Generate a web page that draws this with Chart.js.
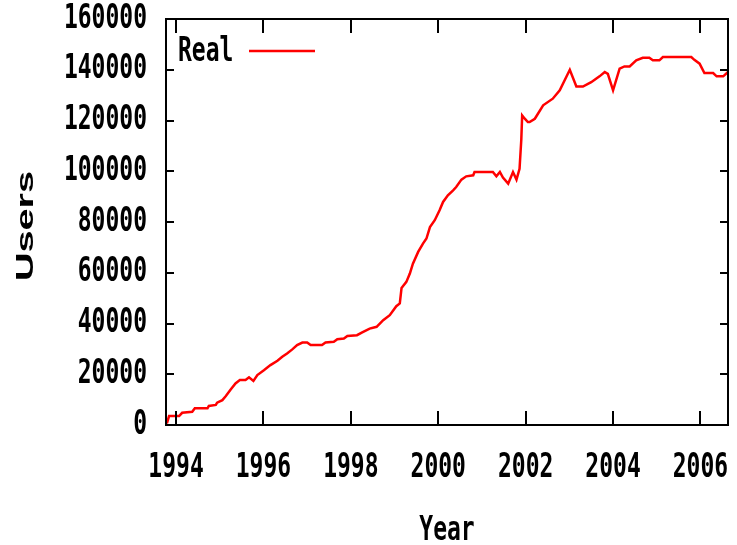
<!DOCTYPE html>
<html>
<head>
<meta charset="utf-8">
<title>Users per year</title>
<script src="https://cdn.jsdelivr.net/npm/chart.js@4/dist/chart.umd.min.js"></script>
<style>
	html, body { margin: 0; padding: 0; background: #fff; }
	#wrap { width: 737px; height: 545px; }
</style>
</head>
<body>
<div id="wrap"><canvas id="grafico-usuarios"></canvas></div>
<script>
	var anos = [1993.79, 1993.84, 1994.07, 1994.14, 1994.37, 1994.43, 1994.72, 1994.75, 1994.91, 1994.94,
		1995.06, 1995.14, 1995.25, 1995.36, 1995.46, 1995.59, 1995.67, 1995.77, 1995.86, 1996.01,
		1996.16, 1996.32, 1996.43, 1996.54, 1996.66, 1996.77, 1996.89, 1997.00, 1997.08, 1997.34,
		1997.42, 1997.61, 1997.69, 1997.84, 1997.92, 1998.14, 1998.26, 1998.43, 1998.59, 1998.74,
		1998.89, 1999.04, 1999.12, 1999.16, 1999.27, 1999.35, 1999.42, 1999.54, 1999.65, 1999.73,
		1999.81, 1999.92, 2000.03, 2000.11, 2000.22, 2000.34, 2000.41, 2000.53, 2000.64, 2000.80,
		2000.83, 2001.25, 2001.33, 2001.41, 2001.48, 2001.60, 2001.71, 2001.79, 2001.86, 2001.90,
		2001.92, 2001.98, 2002.05, 2002.09, 2002.21, 2002.40, 2002.62, 2002.78, 2003.01, 2003.16,
		2003.31, 2003.50, 2003.69, 2003.81, 2003.88, 2004.00, 2004.15, 2004.26, 2004.38, 2004.53,
		2004.68, 2004.83, 2004.91, 2005.06, 2005.14, 2005.79, 2005.86, 2005.98, 2006.09, 2006.29,
		2006.37, 2006.52, 2006.63];

	var usuarios = [600, 3500, 3500, 4800, 5200, 6600, 6600, 7500, 7900, 8800,
		9800, 11400, 14000, 16400, 17700, 17700, 18800, 17400, 19700, 21600,
		23600, 25300, 26900, 28200, 29800, 31500, 32500, 32500, 31500, 31500,
		32500, 32800, 33800, 34100, 35100, 35400, 36500, 38000, 38700, 41300,
		43300, 46800, 47900, 54000, 56400, 59700, 63600, 68200, 71500, 73500,
		78000, 80700, 84600, 87900, 90500, 92500, 93800, 96700, 98000, 98400,
		99700, 99700, 98000, 99700, 97500, 95100, 99700, 96700, 101000, 112400,
		122000, 120700, 119400, 119400, 120700, 126000, 128600, 131900, 140000, 133400,
		133400, 135100, 137400, 139100, 138400, 131900, 140400, 141300, 141300, 143700,
		144700, 144700, 143700, 143700, 145000, 145000, 143900, 142400, 138700, 138700,
		137400, 137400, 139100];

	var anosTicks = [1994, 1996, 1998, 2000, 2002, 2004, 2006];
	var usuariosTicks = [0, 20000, 40000, 60000, 80000, 100000, 120000, 140000, 160000];

	var fonteTicks = "'DejaVu Sans Mono', 'Liberation Mono', monospace";
	var esticar = 1.45;

	var pontos = [];
	for (var i = 0; i < anos.length; i++) {
		pontos.push({ x: anos[i], y: usuarios[i] });
	}

	// a fonte do original e alta e estreita: estica o texto na vertical
	function comTextoEsticado(c, fn) {
		var fill = c.fillText;
		c.fillText = function(t, x, y) {
			c.save();
			c.translate(x, y);
			c.scale(1, esticar);
			fill.call(c, t, 0, 0);
			c.restore();
		};
		try { fn(); } finally { delete c.fillText; }
	}

	function esticarEscala(scale) {
		if (scale._esticada) return;
		scale._esticada = true;
		var drawLabels = scale.drawLabels;
		var drawTitle = scale.drawTitle;
		scale.drawLabels = function(area) {
			var self = this;
			comTextoEsticado(self.ctx, function() { drawLabels.call(self, area); });
		};
		scale.drawTitle = function(area) {
			var self = this;
			comTextoEsticado(self.ctx, function() { drawTitle.call(self, area); });
		};
	}

	// moldura estilo gnuplot: borda e marcas para dentro nos 4 lados
	var molduraPlugin = {
		id: 'moldura',
		afterDatasetsDraw: function(chart) {
			var ctx = chart.ctx;
			var area = chart.chartArea;
			var sx = chart.scales.x;
			var sy = chart.scales.y;
			ctx.save();
			ctx.strokeStyle = '#000';
			ctx.lineWidth = 2;
			ctx.beginPath();
			anosTicks.forEach(function(v) {
				var px = Math.round(sx.getPixelForValue(v));
				ctx.moveTo(px, area.bottom);
				ctx.lineTo(px, area.bottom - 14);
				ctx.moveTo(px, area.top);
				ctx.lineTo(px, area.top + 14);
			});
			usuariosTicks.forEach(function(v) {
				var py = Math.round(sy.getPixelForValue(v));
				ctx.moveTo(area.left, py);
				ctx.lineTo(area.left + 8, py);
				ctx.moveTo(area.right, py);
				ctx.lineTo(area.right - 8, py);
			});
			ctx.stroke();
			ctx.strokeRect(area.left, area.top, area.right - area.left, area.bottom - area.top);
			ctx.restore();
		},
		afterDraw: function(chart) {
			var ctx = chart.ctx;
			var ds = chart.data.datasets[0];
			ctx.save();
			// legenda dentro da area
			ctx.fillStyle = '#000';
			ctx.font = 'bold 23px ' + fonteTicks;
			ctx.textAlign = 'left';
			ctx.textBaseline = 'middle';
			comTextoEsticado(ctx, function() { ctx.fillText(ds.label, 178, 52); });
			ctx.strokeStyle = ds.borderColor;
			ctx.lineWidth = 2.5;
			ctx.beginPath();
			ctx.moveTo(249, 51);
			ctx.lineTo(315, 51);
			ctx.stroke();
			// titulo do eixo y, esticado como no original
			ctx.translate(26, 226);
			ctx.rotate(-Math.PI / 2);
			ctx.scale(1.65, 1);
			ctx.font = "bold 24px 'Liberation Sans', Arial, sans-serif";
			ctx.textAlign = 'center';
			ctx.fillText('Users', 0, 0);
			ctx.restore();
		}
	};

	var ctx = document.getElementById('grafico-usuarios');

	var dados = {
		datasets: [
		{
			label: 'Real',
			data: pontos,
			fill: false,
			borderColor: '#ff0000',
			backgroundColor: '#ff0000',
			borderWidth: 2.5,
			pointRadius: 0,
			tension: 0
		}
		]
	};

	var opcoes = {
		responsive: true,
		maintainAspectRatio: false,
		animation: false,
		layout: { padding: { top: 19, right: 9, left: 0, bottom: 0 } },
		plugins: {
			legend: { display: false },
			tooltip: { enabled: false }
		},
		scales: {
			x: {
				type: 'linear',
				min: 1993.77,
				max: 2006.63,
				afterBuildTicks: function(scale) {
					scale.ticks = anosTicks.map(function(v) { return { value: v }; });
				},
				afterFit: function(scale) {
					scale.height = 120;
					scale.paddingLeft = 0;
					scale.paddingRight = 0;
					esticarEscala(scale);
				},
				grid: { display: false, drawTicks: false },
				border: { display: false },
				ticks: {
					padding: 30,
					color: '#000',
					maxRotation: 0,
					autoSkip: false,
					font: { family: fonteTicks, size: 23, weight: 'bold' },
					callback: function(v) { return String(v); }
				},
				title: {
					display: true,
					text: 'Year',
					color: '#000',
					padding: { top: 0, bottom: 0 },
					font: { family: fonteTicks, size: 23, weight: 'bold' }
				}
			},
			y: {
				min: 0,
				max: 160000,
				afterBuildTicks: function(scale) {
					scale.ticks = usuariosTicks.map(function(v) { return { value: v }; });
				},
				afterFit: function(scale) {
					scale.width = 166;
					scale.paddingTop = 0;
					scale.paddingBottom = 0;
					esticarEscala(scale);
				},
				grid: { display: false, drawTicks: false },
				border: { display: false },
				ticks: {
					padding: 19,
					color: '#000',
					autoSkip: false,
					font: { family: fonteTicks, size: 23, weight: 'bold' },
					callback: function(v) { return String(v); }
				}
			}
		}
	};

	var graficoUsuarios = new Chart(ctx, {
		type: 'line',
		data: dados,
		options: opcoes,
		plugins: [molduraPlugin]
	});
</script>
</body>
</html>
